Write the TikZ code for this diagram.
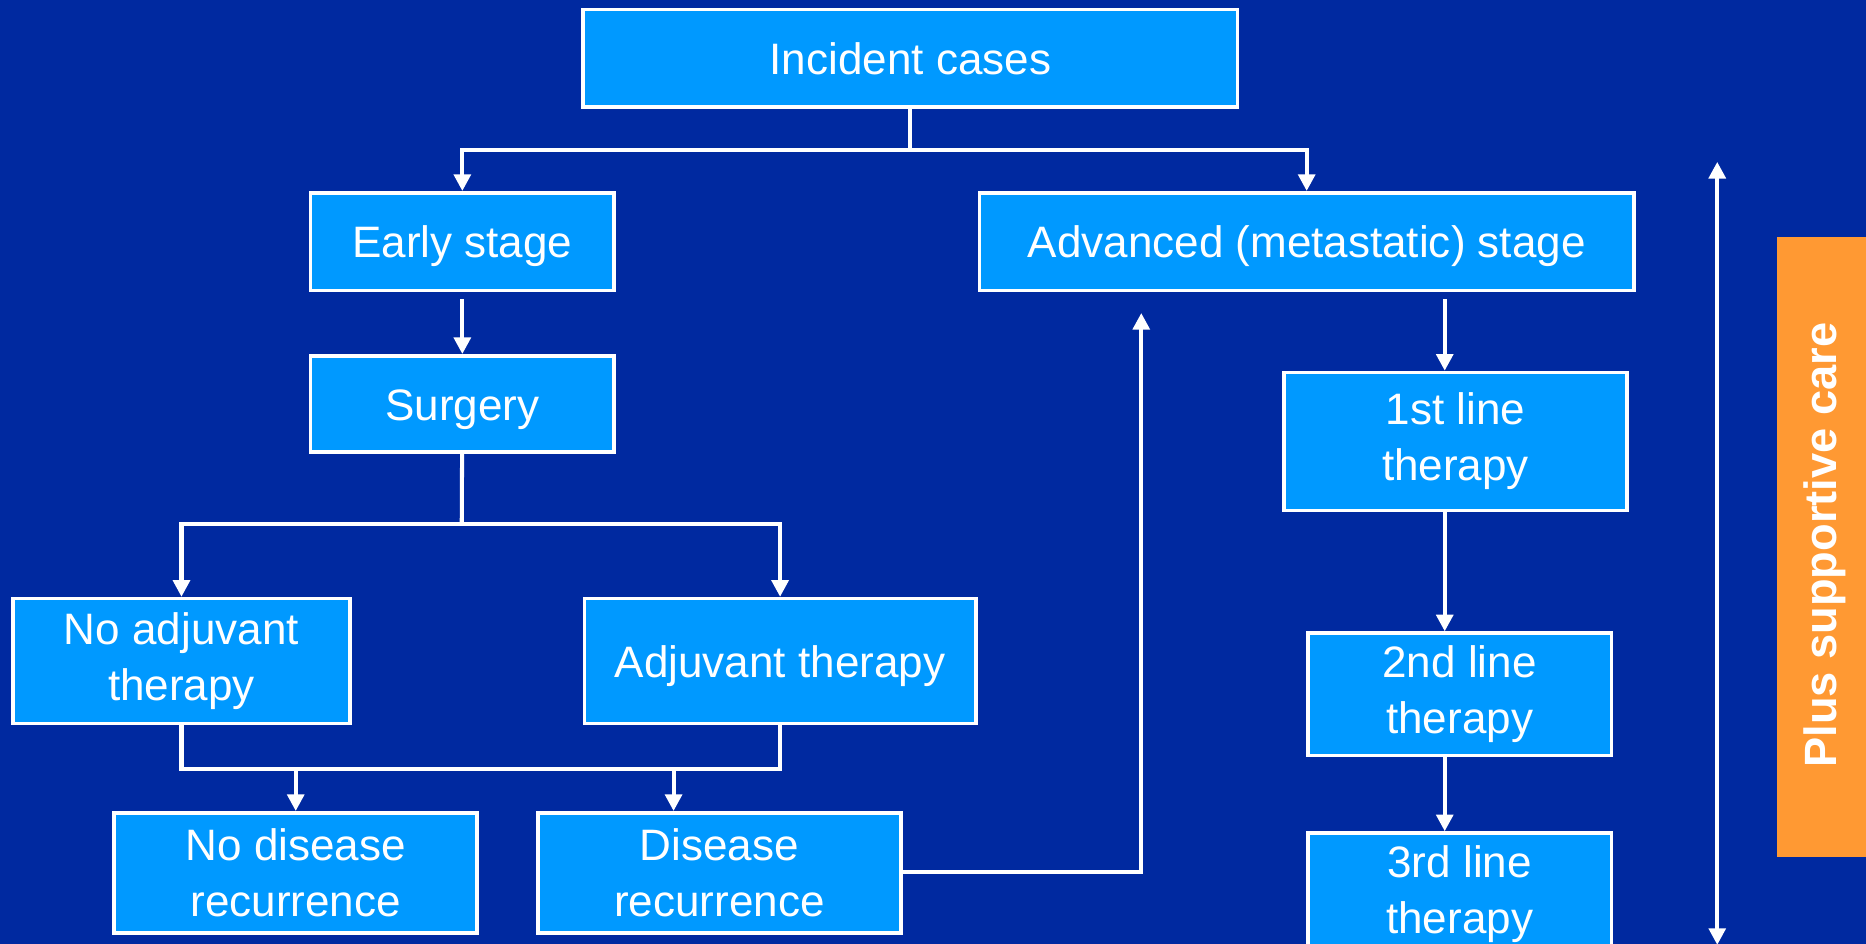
\documentclass[tikz,border=0pt]{standalone}
\usepackage{fontspec}
\setmainfont{Liberation Sans}
\usetikzlibrary{arrows.meta, positioning}

\definecolor{bgblue}{RGB}{0,41,160}
\definecolor{boxblue}{RGB}{0,153,255}
\definecolor{careorange}{RGB}{255,153,51}

\begin{document}
\begin{tikzpicture}[
    x=1pt, y=-1pt,
    stagebox/.style={rectangle, draw=white, line width=3pt, fill=boxblue, text=white, align=center, inner sep=0pt, minimum height=82pt, font=\fontsize{37}{47}\selectfont},
    oneline/.style={text height=36pt, text depth=9pt},
    link/.style={draw=white, line width=3.4pt},
    arrow/.style={link, -{Triangle[length=14pt,width=14pt]}}
]

% Background
\fill[bgblue] (0,0) rectangle (1568,793);
\useasboundingbox (0,0) rectangle (1568,793);
\clip (0,0) rectangle (1568,793);

% Top
\node[stagebox, oneline, minimum width=550pt] (incident) at (765,49) {Incident cases};

% Early branch
\node[stagebox, oneline, minimum width=255pt] (early) at (388.5,203) {Early stage};
\node[stagebox, oneline, minimum width=255pt, minimum height=81pt, below=52pt of early] (surgery) {Surgery};
\node[stagebox, minimum width=283pt, minimum height=105pt] (noadj) at (152.5,555.5) {No adjuvant\\therapy};
\node[stagebox, oneline, minimum width=329pt, minimum height=105pt] (adj) at (655.5,555.5) {Adjuvant therapy};
\node[stagebox, minimum width=305pt, minimum height=101pt] (nodis) at (248.5,733.5) {No disease\\recurrence};
\node[stagebox, minimum width=305pt, minimum height=101pt] (dis) at (604.5,733.5) {Disease\\recurrence};

% Advanced branch
\node[stagebox, oneline, minimum width=550pt, right=304pt of early] (advanced) {Advanced (metastatic) stage};
\node[stagebox, minimum width=288pt, minimum height=116pt] (first) at (1223,371) {1st line\\therapy};
\node[stagebox, minimum width=255pt, minimum height=103pt, below=100pt of first, xshift=3.5pt] (second) {2nd line\\therapy};
\node[stagebox, minimum width=255pt, minimum height=103pt, below=62pt of second] (third) {3rd line\\therapy};

% Supportive care
\node[fill=careorange, minimum width=80pt, minimum height=521pt, inner sep=0pt] (care) at (1533,459.5) {};
\node[rotate=90, text=white, font=\fontsize{38}{46}\selectfont\bfseries] (caretext) at (1533,458) {Plus supportive care};

% Helper coordinates
\coordinate (split1) at (765,126);
\coordinate (split2) at (388,440);
\coordinate (merge) at (566,645);
\coordinate (relapse) at (959,263);
\coordinate (axis) at (1214,0);
\coordinate (caretop) at (1443,136);
\coordinate (carebot) at (1443,794);

% Arrows
\draw[link] (incident) -- (split1);
\draw[arrow] (split1) -| (early);
\draw[arrow] (split1) -| (advanced);
\draw[arrow, shorten <=6pt] (early) -- (surgery);

\draw[link] (surgery) -- (split2);
\draw[arrow] (split2) -| (noadj);
\draw[arrow] (split2) -| (adj);

\draw[link] (noadj.south) -- ++(0,37) -| (adj.south);
\draw[arrow] (nodis.north |- merge) -- (nodis);
\draw[arrow] (merge) -- (merge |- dis.north);

% Recurrence back to advanced
\draw[arrow] (dis.east |- 0,733) -| (relapse);

% Lines of therapy
\draw[arrow, shorten <=6pt] (advanced.south -| axis) -- (first.north -| axis);
\draw[arrow] (first.south -| axis) -- (second.north -| axis);
\draw[arrow] (second.south -| axis) -- (third.north -| axis);

% Supportive care span
\draw[arrow, {Triangle[length=14pt,width=14pt]}-{Triangle[length=14pt,width=14pt]}] (caretop) -- (carebot);

\end{tikzpicture}
\end{document}
